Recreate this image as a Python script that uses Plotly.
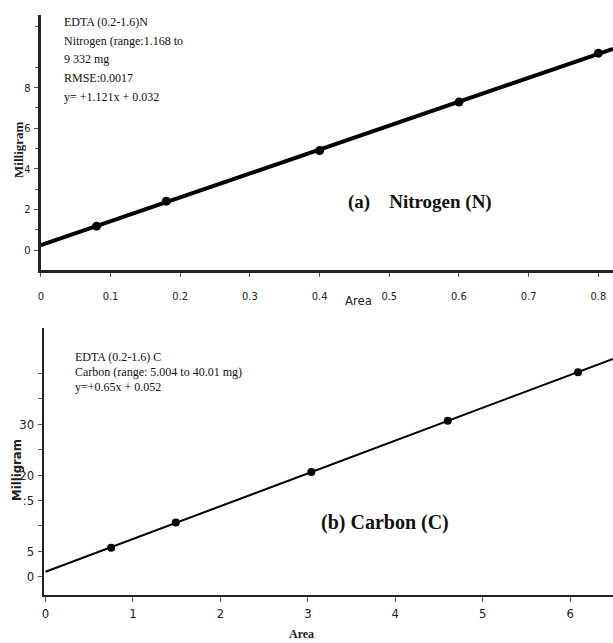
import numpy as np
import plotly.graph_objects as go

# ---- data ----
n_area = [0.08, 0.18, 0.40, 0.60, 0.80]
n_mg = [1.18, 2.41, 4.90, 7.29, 9.70]
c_area = [0.75, 1.49, 3.04, 4.60, 6.09]
c_mg = [5.74, 10.7, 20.6, 30.7, 40.2]

n_xticks = [0, 0.1, 0.2, 0.3, 0.4, 0.5, 0.6, 0.7, 0.8]
n_xticklabels = ["0", "0.1", "0.2", "0.3", "0.4", "0.5", "0.6", "0.7", "0.8"]
n_yticks = [0, 2, 4, 6, 8]
n_yticklabels = ["0", "2", "4", "6", "8"]
c_xticks = [0, 1, 2, 3, 4, 5, 6]
c_xticklabels = ["0", "1", "2", "3", "4", "5", "6"]
c_yticks = [0, 5, 15, 20, 30]
c_yticklabels = ["0", "5", ":5", "20", "30"]

n_text = ["EDTA (0.2-1.6)N", "Nitrogen (range:1.168 to", "9 332 mg", "RMSE:0.0017", "y= +1.121x + 0.032"]
c_text = ["EDTA (0.2-1.6) C", "Carbon (range: 5.004 to 40.01 mg)", "y=+0.65x + 0.052"]

n_xrange = [0, 0.821]
n_yrange = [-0.98, 11.58]
c_xrange = [-0.02, 6.49]
c_yrange = [-3.56, 48.9]

TICKFONT = "DejaVu Sans Condensed, Liberation Sans Narrow, Arial Narrow, sans-serif"
SERIF = "Liberation Serif, Times New Roman, serif"

nfit = np.polyfit(n_area, n_mg, 1)
cfit = np.polyfit(c_area, c_mg, 1)
nx = np.array(n_xrange)
cx = np.array([0, c_xrange[1]])

fig = go.Figure()
fig.add_trace(go.Scatter(x=nx, y=np.polyval(nfit, nx), mode="lines",
                         line=dict(color="black", width=4), xaxis="x", yaxis="y", showlegend=False))
fig.add_trace(go.Scatter(x=n_area, y=n_mg, mode="markers",
                         marker=dict(color="black", size=9), xaxis="x", yaxis="y", showlegend=False))
fig.add_trace(go.Scatter(x=cx, y=np.polyval(cfit, cx), mode="lines",
                         line=dict(color="black", width=2), xaxis="x2", yaxis="y2", showlegend=False))
fig.add_trace(go.Scatter(x=c_area, y=c_mg, mode="markers",
                         marker=dict(color="black", size=8), xaxis="x2", yaxis="y2", showlegend=False))

W, H = 613, 643

def py(p):
    return 1 - p / H

ax_common = dict(showgrid=False, zeroline=False, showline=True, linecolor="#222",
                 ticks="outside", tickcolor="#555")

fig.update_layout(
    width=W, height=H, margin=dict(l=0, r=0, t=0, b=0),
    paper_bgcolor="white", plot_bgcolor="white",
    xaxis=dict(domain=[38 / W, 1], anchor="y", range=n_xrange, tickvals=n_xticks, ticktext=n_xticklabels,
               ticklen=4, linewidth=3, ticklabelstandoff=10,
               tickfont=dict(family=TICKFONT, size=11, color="#222"), **ax_common),
    yaxis=dict(domain=[py(270), py(15)], anchor="x", range=n_yrange, tickvals=n_yticks, ticktext=n_yticklabels,
               ticklen=4, linewidth=3, ticklabelstandoff=1,
               tickfont=dict(family=TICKFONT, size=11, color="#222"),
               minor=dict(tickvals=[1, 3, 5, 7, 9, 11], ticklen=3, ticks="outside", tickcolor="#555"), **ax_common),
    xaxis2=dict(domain=[41 / W, 1], anchor="y2", range=c_xrange, tickvals=c_xticks, ticktext=c_xticklabels,
                ticklen=5, linewidth=2, ticklabelstandoff=0,
                tickfont=dict(family=TICKFONT, size=13, color="#222"), **ax_common),
    yaxis2=dict(domain=[py(595), py(328)], anchor="x2", range=c_yrange, tickvals=c_yticks, ticktext=c_yticklabels,
                ticklen=4, linewidth=2, ticklabelstandoff=1,
                tickfont=dict(family=TICKFONT, size=13, color="#222"),
                minor=dict(tickvals=[10, 25, 35, 40], ticklen=4, ticks="outside", tickcolor="#555"), **ax_common),
)

ann = []
for i, t in enumerate(n_text):
    ann.append(dict(text=t, x=59 / W, y=py(22 + i * 18.7), xref="paper", yref="paper", xanchor="left",
                    yanchor="middle", showarrow=False, font=dict(family=SERIF, size=12, color="#111")))
for i, t in enumerate(c_text):
    ann.append(dict(text=t, x=70 / W, y=py(357 + i * 15), xref="paper", yref="paper", xanchor="left",
                    yanchor="middle", showarrow=False, font=dict(family=SERIF, size=12, color="#111")))
ann.append(dict(text="<b>(a)    Nitrogen (N)</b>", x=345 / W, y=py(202), xref="paper", yref="paper",
                xanchor="left", yanchor="middle", showarrow=False, font=dict(family=SERIF, size=19, color="#111")))
ann.append(dict(text="<b>(b) Carbon (C)</b>", x=318 / W, y=py(522), xref="paper", yref="paper",
                xanchor="left", yanchor="middle", showarrow=False, font=dict(family=SERIF, size=20, color="#111")))
ann.append(dict(text="Area", x=357 / W, y=py(300), xref="paper", yref="paper", xanchor="center",
                yanchor="middle", showarrow=False, font=dict(family=TICKFONT, size=13, color="#222")))
ann.append(dict(text="<b>Area</b>", x=300 / W, y=py(634), xref="paper", yref="paper", xanchor="center",
                yanchor="middle", showarrow=False, font=dict(family=SERIF, size=12, color="#222")))
ann.append(dict(text="<b>Milligram</b>", x=15 / W, y=py(150), xref="paper", yref="paper", xanchor="center",
                yanchor="middle", textangle=-90, showarrow=False, font=dict(family=SERIF, size=13, color="#222")))
ann.append(dict(text="<b>Milligram</b>", x=13 / W, y=py(470), xref="paper", yref="paper", xanchor="center",
                yanchor="middle", textangle=-90, showarrow=False, font=dict(family=TICKFONT, size=13, color="#222")))
fig.update_layout(annotations=ann)

fig.write_html("out.html", config={"displayModeBar": False},
               post_script="document.body.style.margin='0';document.body.style.overflow='hidden';")
